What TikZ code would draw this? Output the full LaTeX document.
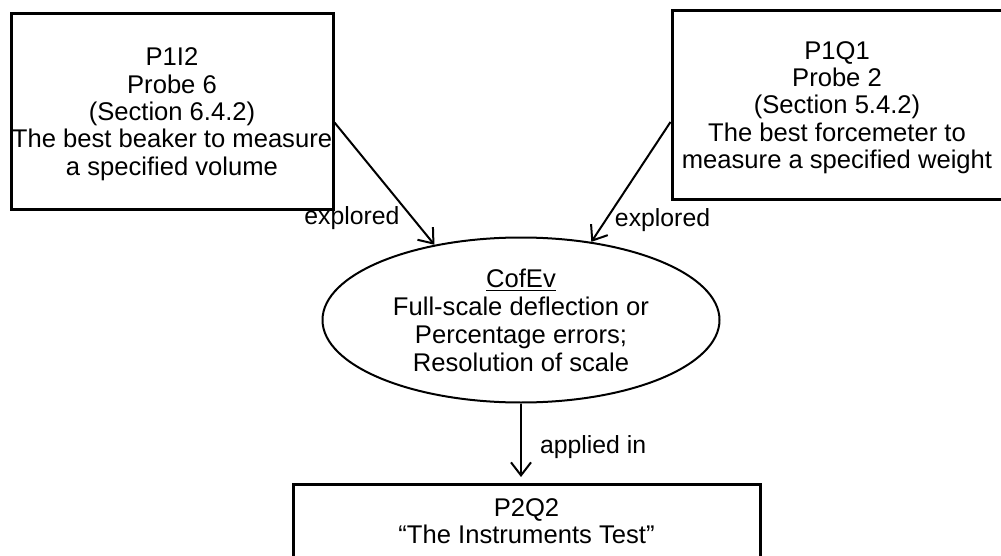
\documentclass[tikz,border=0pt]{standalone}
\usepackage{fontspec}
\setmainfont{Liberation Sans}
\usepackage{tikz}
\usetikzlibrary{arrows.meta,positioning,shapes.geometric}

\begin{document}
\begin{tikzpicture}[x=0.5pt, y=-0.5pt,
      box/.style={draw, line width=1.5pt, align=center, inner sep=0pt,
                  font=\fontsize{12.8pt}{13.7pt}\selectfont},
      goal/.style={draw, ellipse, line width=1pt, align=center, inner sep=0pt,
                   minimum width=198.5pt, minimum height=82.5pt,
                   font=\fontsize{12.8pt}{14pt}\selectfont},
      arr/.style={-{Straight Barb[length=6.5pt, width=10pt]}, line width=1pt},
      lbl/.style={font=\fontsize{12.4pt}{14pt}\selectfont, inner sep=1pt}
    ]
      \useasboundingbox (0,0) rectangle (1001,556);
      \clip (0,0) rectangle (1001,556);
      \node[box, minimum width=161pt, minimum height=97.5pt, text depth=0pt] (p1i2) at (172,111.5)
        {P1I2\\Probe 6\\(Section 6.4.2)\\The best beaker to measure\\a specified volume};
      \node[box, minimum width=165pt, minimum height=94pt, text depth=0pt] (p1q1) at (837,105)
        {P1Q1\\Probe 2\\(Section 5.4.2)\\The best forcemeter to\\measure a specified weight};
      \node[goal] (cofev) at (521,320)
        {\underline{CofEv}\\Full-scale deflection or\\Percentage errors;\\Resolution of scale};
      \node[box, anchor=north, minimum width=233.5pt, inner ysep=7pt, text depth=60pt] (p2q2) at (526.5,483)
        {P2Q2\\``The Instruments Test''};
      \draw[arr] ([yshift=-5.5pt]p1i2.east) -- node[lbl, pos=0.76, anchor=east, xshift=-4pt, yshift=-1.5pt] {explored} (cofev.139);
      \draw[arr] ([yshift=-8.5pt]p1q1.west) -- node[lbl, pos=0.79, anchor=west, xshift=2pt, yshift=-1.5pt] {explored} (cofev.48);
      \draw[arr, shorten >=3pt] (cofev.south) -- node[lbl, right=8pt, pos=0.55] {applied in} (cofev.south |- p2q2.north);
    \end{tikzpicture}
\end{document}
